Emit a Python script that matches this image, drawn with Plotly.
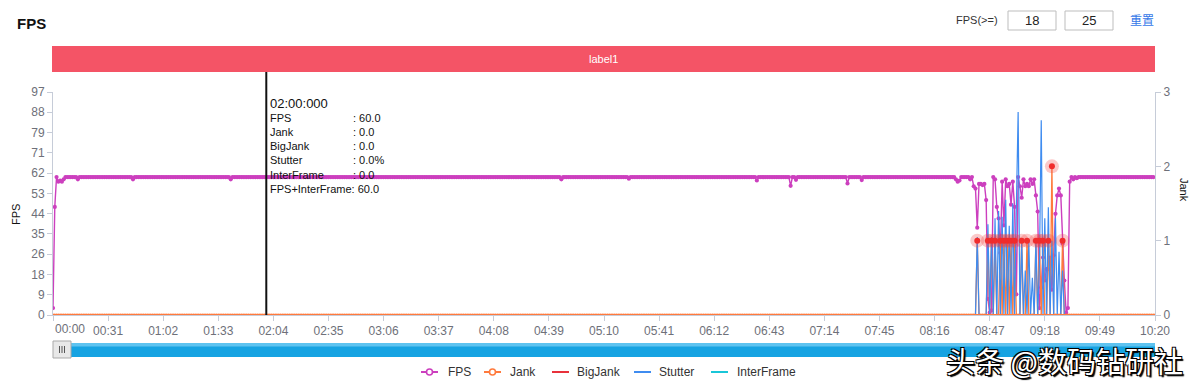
import plotly.graph_objects as go

# ---------------- data ----------------
time_tick_seconds = [0, 31, 62, 93, 124, 155, 186, 217, 248, 279, 310,
                     341, 372, 403, 434, 465, 496, 527, 558, 589, 620]
time_tick_labels = ["00:00", "00:31", "01:02", "01:33", "02:04", "02:35", "03:06",
                    "03:37", "04:08", "04:39", "05:10", "05:41", "06:12", "06:43",
                    "07:14", "07:45", "08:16", "08:47", "09:18", "09:49", "10:20"]

fps_tick_labels = ["0", "9", "18", "26", "35", "44", "53", "62", "71", "79", "88", "97"]
fps_axis_max = 97
jank_ticks = [0, 1, 2, 3]

n_seconds = 621                      # 00:00 .. 10:20, one sample per second
fps_start = [3, 47, 60, 58, 58.5, 58, 59]          # t = 0..6
fps_steady = 60
fps_dips = {14: 59, 45: 59, 100: 59, 286: 59, 324: 59.3, 396: 58.5, 415: 56.2,
            418: 58.8, 447: 57.2, 455: 58.7, 508: 59, 509: 58, 510: 58.5, 516: 59}
burst_start = 517
fps_burst = [60, 56, 55, 38, 57, 57, 56.5, 57, 50, 7, 1, 2, 60, 59, 47, 42, 27, 58,
             39, 59, 56, 57, 48, 58, 47, 9, 60, 56, 51, 59, 56, 57, 56, 59, 57, 59,
             52, 45, 3, 12, 25, 15, 20, 20, 25, 11, 26, 44, 52, 55, 52, 31, 15, 1,
             3, 58, 60, 59, 60, 59.5, 60]

jank_spikes = {520: 1, 526: 1, 528: 1, 530: 1, 533: 1, 535: 1, 537: 1, 539: 1,
               541: 1, 545: 1, 548: 1, 553: 1, 555: 1, 557: 1, 560: 1, 562: 2, 568: 1}
stutter_spikes = {520: 1.05, 526: 1.22, 528: 1.05, 530: 1.3, 532: 1.4, 534: 1.32,
                  536: 1.55, 538: 1.2, 540: 1.5, 542: 1.45, 543: 2.73, 545: 1.0,
                  547: 0.6, 549: 1.0, 551: 0.5, 553: 1.0, 555: 0.7, 556: 2.62,
                  558: 1.3, 560: 1.45, 562: 1.0, 564: 1.3, 566: 0.85, 568: 0.6}

cursor_time = 120
tooltip_title = "02:00:000"
tooltip_rows = [("FPS", ": 60.0"), ("Jank", ": 0.0"), ("BigJank", ": 0.0"),
                ("Stutter", ": 0.0%"), ("InterFrame", ": 0.0")]
tooltip_last = "FPS+InterFrame: 60.0"

legend_items = [("FPS", "#CC3FBE", True), ("Jank", "#FF7A3D", True),
                ("BigJank", "#E8313B", False), ("Stutter", "#3F8CF0", False),
                ("InterFrame", "#19C6D8", False)]

# ---------------- build series ----------------
seconds = list(range(n_seconds))
fps = [fps_steady] * n_seconds
for i, v in enumerate(fps_start):
    fps[i] = v
for t, v in fps_dips.items():
    fps[t] = v
for i, v in enumerate(fps_burst):
    fps[burst_start + i] = v
fps = fps[:n_seconds - 1]
fps_t = seconds[:n_seconds - 1]

jank = [jank_spikes.get(t, 0) for t in seconds]
stutter = [stutter_spikes.get(t, 0) for t in seconds]
bigjank = [0] * n_seconds
interframe = [0] * n_seconds
halo_t = [t for t in seconds if jank[t] > 0]
halo_v = [jank[t] for t in halo_t]

C_FPS, C_JANK, C_BIG, C_STUT, C_INTER = [c for _, c, _ in legend_items]

# ---------------- layout helpers ----------------
W, H = 1200, 385
ML, MR, MT, MB = 53, 45, 92, 70
PW, PH = W - ML - MR, H - MT - MB
def px(x):
    return (x - ML) / PW
def py(y):
    return (H - MB - y) / PH

FONT = "Liberation Sans, Arial, sans-serif"
AXC = "#C6CCD8"
TXC = "#6E7079"

def label(x, y, text, size=11, color="#111", xanchor="left", family=FONT, **kw):
    d = dict(x=px(x), y=py(y), xref="paper", yref="paper", text=text, showarrow=False,
             xanchor=xanchor, yanchor="middle", font=dict(family=family, size=size, color=color))
    d.update(kw)
    return d

fig = go.Figure()
fig.add_trace(go.Scatter(x=fps_t, y=fps, name="FPS", mode="lines+markers",
                         line=dict(color=C_FPS, width=1.4),
                         marker=dict(color=C_FPS, size=4.2, line=dict(width=0)),
                         showlegend=False))
fig.add_trace(go.Scatter(x=seconds, y=interframe, name="InterFrame", mode="lines",
                         line=dict(color=C_INTER, width=1.5), yaxis="y2", showlegend=False))
fig.add_trace(go.Scatter(x=seconds, y=bigjank, name="BigJank", mode="lines",
                         line=dict(color=C_BIG, width=1.5), yaxis="y2", showlegend=False))
fig.add_trace(go.Scatter(x=seconds, y=jank, name="Jank", mode="lines+markers",
                         line=dict(color=C_JANK, width=1.3),
                         marker=dict(color=C_JANK, size=3, line=dict(width=0)),
                         yaxis="y2", showlegend=False))
fig.add_trace(go.Scatter(x=seconds, y=stutter, name="Stutter", mode="lines",
                         line=dict(color=C_STUT, width=1.2), yaxis="y2", showlegend=False))
fig.add_trace(go.Scatter(x=[0, 620], y=[0, 0], mode="lines", yaxis="y2",
                         line=dict(color=C_JANK, width=2), showlegend=False, hoverinfo="skip"))
fig.add_trace(go.Scatter(x=halo_t, y=halo_v, mode="markers", yaxis="y2",
                         marker=dict(color="rgba(240,60,60,0.28)", size=14, line=dict(width=0)),
                         showlegend=False, hoverinfo="skip"))
fig.add_trace(go.Scatter(x=halo_t, y=halo_v, mode="markers", yaxis="y2",
                         marker=dict(color="#F02C2C", size=6, line=dict(width=0)),
                         showlegend=False, hoverinfo="skip"))

shapes = []
ann = []

# red label bar
shapes.append(dict(type="rect", xref="paper", yref="paper", x0=px(52), x1=px(1155),
                   y0=py(72), y1=py(46), fillcolor="#F45466", line=dict(width=0), layer="above"))
ann.append(label(603, 59, "label1", size=11, color="white", xanchor="center"))

# cursor line
shapes.append(dict(type="line", xref="x", yref="paper", x0=cursor_time, x1=cursor_time,
                   y0=0, y1=py(72), line=dict(color="#111", width=2), layer="above"))

# tooltip text
ann.append(label(268, 103, tooltip_title, size=13))
row_y = [118, 132, 146, 160, 175]
for (lab, val), yy in zip(tooltip_rows, row_y):
    ann.append(label(268, yy, lab))
    ann.append(label(351, yy, val))
ann.append(label(268, 189, tooltip_last))

# title and controls
ann.append(label(15, 23, "<b>FPS</b>", size=15))
ann.append(label(1000, 20, "FPS(>=)", size=11, color="#333", xanchor="right"))
for x0, x1, txt in [(1008, 1056, "18"), (1065, 1113, "25")]:
    shapes.append(dict(type="rect", xref="paper", yref="paper", x0=px(x0), x1=px(x1),
                       y0=py(30), y1=py(11), fillcolor="white",
                       line=dict(color="#BDBDBD", width=1), layer="above"))
    ann.append(label((x0 + x1) / 2, 20.5, txt, size=13, color="#222", xanchor="center"))
ann.append(label(1142, 20, "重置", size=12, color="#3478E8", xanchor="center",
                 family="Noto Sans CJK SC"))

# axis titles
ann.append(label(16, 215, "FPS", xanchor="center", textangle=-90))
ann.append(label(1184, 190, "Jank", xanchor="center", textangle=90))

# first x label left aligned (like reference)
ann.append(label(53, 329, time_tick_labels[0], size=12, color=TXC))
xt_text = [""] + time_tick_labels[1:]

# data-zoom slider
shapes.append(dict(type="rect", xref="paper", yref="paper", x0=px(62), x1=px(1155),
                   y0=py(357), y1=py(343), fillcolor="#16A3E2", line=dict(width=0), layer="above"))
shapes.append(dict(type="rect", xref="paper", yref="paper", x0=px(62), x1=px(1155),
                   y0=py(346.5), y1=py(343), fillcolor="#5EC3F0", line=dict(width=0), layer="above"))
shapes.append(dict(type="rect", xref="paper", yref="paper", x0=px(53), x1=px(71),
                   y0=py(358), y1=py(341), fillcolor="#E8E8E8",
                   line=dict(color="#A9A9A9", width=1), layer="above"))
for hx in (59.5, 62, 64.5):
    shapes.append(dict(type="line", xref="paper", yref="paper", x0=px(hx), x1=px(hx),
                       y0=py(353), y1=py(346), line=dict(color="#555", width=1), layer="above"))

# manual legend
leg_pos = [(421, 446), (484, 508), (552, 575), (634, 657), (711, 735)]
for (name, col, circ), (lx, tx) in zip(legend_items, leg_pos):
    shapes.append(dict(type="line", xref="paper", yref="paper", x0=px(lx), x1=px(lx + 17),
                       y0=py(372), y1=py(372), line=dict(color=col, width=2), layer="above"))
    if circ:
        shapes.append(dict(type="circle", xref="paper", yref="paper",
                           x0=px(lx + 5.5), x1=px(lx + 11.5), y0=py(375), y1=py(369),
                           fillcolor="white", line=dict(color=col, width=1.6), layer="above"))
    ann.append(label(tx, 372, name, size=12, color="#333"))

# watermark
ann.append(label(1064, 360, "头条 @数码钻研社", size=29, color="white", xanchor="center",
                 family="Noto Sans CJK SC"))
ann[-1]["font"]["shadow"] = ("1px 1px 0 #000, -1px -1px 0 #000, 1px -1px 0 #000, "
                             "-1px 1px 0 #000, 2px 2px 1px #000")

fig.update_layout(
    width=W, height=H,
    margin=dict(l=ML, r=MR, t=MT, b=MB),
    paper_bgcolor="white", plot_bgcolor="white",
    showlegend=False,
    font=dict(family=FONT, size=12, color=TXC),
    xaxis=dict(range=[0, 620], tickmode="array", tickvals=time_tick_seconds, ticktext=xt_text,
               showgrid=False, zeroline=False, showline=True, linecolor=AXC, linewidth=1,
               ticks="outside", ticklen=5, tickcolor=AXC, tickfont=dict(size=12, color=TXC)),
    yaxis=dict(range=[0, fps_axis_max], tickmode="array",
               tickvals=[i * fps_axis_max / (len(fps_tick_labels) - 1) for i in range(len(fps_tick_labels))],
               ticktext=fps_tick_labels, showgrid=False, zeroline=False, showline=True,
               linecolor=AXC, linewidth=1, ticks="outside", ticklen=5, tickcolor=AXC,
               tickfont=dict(size=12, color=TXC)),
    yaxis2=dict(range=[0, 3], overlaying="y", side="right", tickmode="array", tickvals=jank_ticks,
                showgrid=False, zeroline=False, showline=True, linecolor=AXC, linewidth=1,
                ticks="outside", ticklen=5, tickcolor=AXC, tickfont=dict(size=12, color=TXC)),
    shapes=shapes, annotations=ann,
)

fig.write_html("out.html", config={"displayModeBar": False},
               post_script="document.body.style.margin='0px';")
